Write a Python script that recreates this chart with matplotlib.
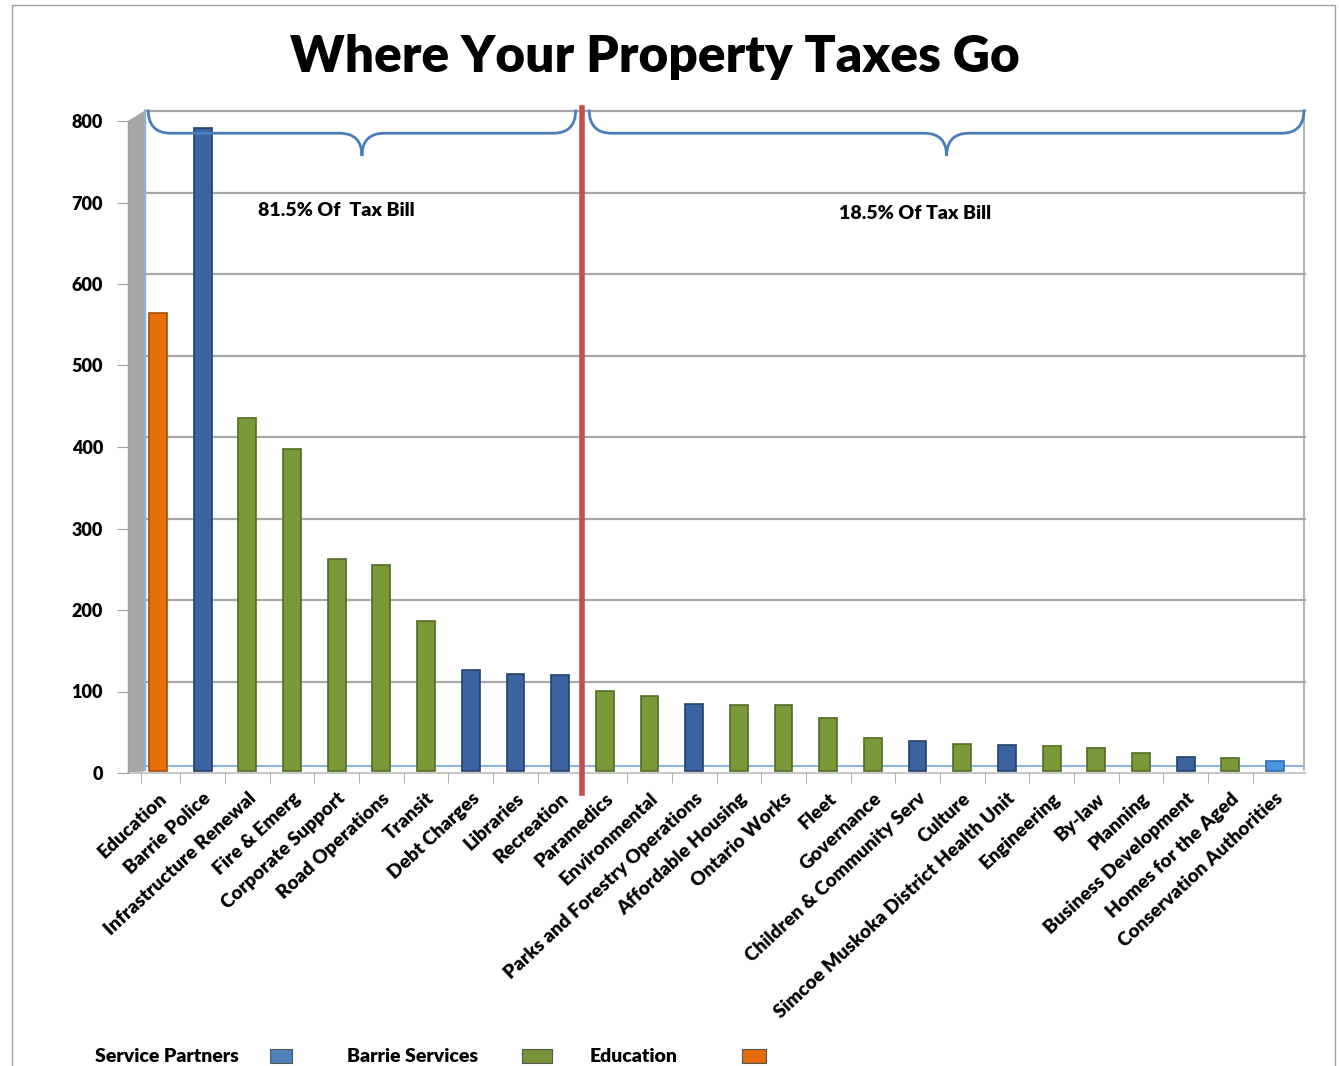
import matplotlib.pyplot as plt
from matplotlib.patches import Rectangle, PathPatch
from matplotlib.path import Path

categories = ['Education', 'Barrie Police', 'Infrastructure Renewal', 'Fire & Emerg',
              'Corporate Support', 'Road Operations', 'Transit', 'Debt Charges',
              'Libraries', 'Recreation', 'Paramedics', 'Environmental',
              'Parks and Forestry Operations', 'Affordable Housing', 'Ontario Works',
              'Fleet', 'Governance', 'Children & Community Serv', 'Culture',
              'Simcoe Muskoka District Health Unit', 'Engineering', 'By-law',
              'Planning', 'Business Development', 'Homes for the Aged',
              'Conservation Authorities']
values = [561, 789, 432, 394, 259, 252, 183, 123, 119, 117, 98, 91, 82, 81, 80,
          65, 40, 36, 33, 31, 30, 28, 21, 17, 16, 12]
# E = education, P = service partners, B = barrie services, L = light blue
groups = ['E', 'P', 'B', 'B', 'B', 'B', 'B', 'P', 'P', 'P', 'B', 'B', 'P', 'B', 'B',
          'B', 'B', 'P', 'B', 'P', 'B', 'B', 'B', 'P', 'B', 'L']
legend_labels = ['Service Partners', 'Barrie Services', 'Education']
split_pos = 9.5
left_text = '81.5% Of  Tax Bill'
right_text = '18.5% Of Tax Bill'

bar_col = {'E': '#e8700c', 'P': '#3a64a0', 'B': '#7a9a3a', 'L': '#4a94e0'}
edge_col = {'E': '#a84f08', 'P': '#24416b', 'B': '#536c25', 'L': '#2f6fb0'}
legend_col = ['#4f81bd', '#77933c', '#e46c0a']

W, H = 1339, 1066
fig = plt.figure(figsize=(W / 100, H / 100), dpi=100)
plt.rcParams['font.family'] = ['Lato', 'DejaVu Sans']

ax_l, ax_r, ax_t, ax_b = 128, 1305, 121, 773
ax = fig.add_axes([ax_l / W, 1 - ax_b / H, (ax_r - ax_l) / W, (ax_b - ax_t) / H])

x0px, step = 158, 44.68
xlo = (ax_l - x0px) / step
xhi = (ax_r - x0px) / step
ax.set_xlim(xlo, xhi)
ax.set_ylim(0, 800)

wall = (145 - x0px) / step
ax.fill_between([xlo, wall], [0, 4], [800, 813], color='#a6a6a6', zorder=1, clip_on=False)
for yv in range(100, 801, 100):
    ax.plot([wall, xhi], [yv + 12, yv + 12], color='#a8a8a8', lw=1.6, zorder=1,
            clip_on=False)
ax.plot([wall, wall], [4, 813], color='#8db3e2', lw=1.2, zorder=1, clip_on=False)
ax.plot([xhi - 0.02, xhi - 0.02], [4, 813], color='#a8a8a8', lw=1.2, zorder=1,
        clip_on=False)
ax.plot([wall, xhi], [8, 8], color='#8db3e2', lw=1.5, zorder=1)
ax.plot([xlo, xhi], [0, 0], color='#c8c8c8', lw=1.5, zorder=1, clip_on=False)

xs = list(range(len(categories)))
for x, v, g in zip(xs, values, groups):
    ax.bar(x, v, width=0.4, bottom=3, color=bar_col[g], edgecolor=edge_col[g],
           lw=1.2, zorder=3)

ax.axvline(split_pos, ymin=-0.03, ymax=1.02, color='#c0504d', lw=4, zorder=5,
           clip_on=False)


def brace(xa, xb, ytop, ymid, ytip, dx):
    xc = (xa + xb) / 2
    verts = [(xa, ytop), (xa, ymid), (xa + dx, ymid),
             (xc - dx, ymid),
             (xc, ymid), (xc, ytip),
             (xc, ymid), (xc + dx, ymid),
             (xb - dx, ymid),
             (xb, ymid), (xb, ytop)]
    codes = [Path.MOVETO, Path.CURVE3, Path.CURVE3, Path.LINETO,
             Path.CURVE3, Path.CURVE3, Path.CURVE3, Path.CURVE3,
             Path.LINETO, Path.CURVE3, Path.CURVE3]
    ax.add_patch(PathPatch(Path(verts, codes), fill=False, edgecolor='#4a7ebb',
                           lw=2, zorder=4, clip_on=False))


brace(-0.22, 9.35, 814, 785, 757, 0.5)
brace(9.65, 25.65, 814, 785, 757, 0.5)

ax.text(4.0, 690, left_text, fontsize=14, fontweight='heavy', ha='center', va='center')
ax.text(16.95, 686, right_text, fontsize=14, fontweight='heavy', ha='center', va='center')

ax.set_yticks(range(0, 801, 100))
ax.tick_params(axis='y', labelsize=13, length=8, color='#a0a0a0', pad=10)
for t in ax.get_yticklabels():
    t.set_fontweight('heavy')
ax.set_xticks(xs)
ax.set_xticklabels(categories, rotation=43, ha='right', rotation_mode='anchor',
                   fontsize=13.8, fontweight='heavy')
ax.tick_params(axis='x', length=0, pad=12)
ax.set_xticks([x + 0.5 for x in xs[:-1]] + [xlo + 0.3], minor=True)
ax.tick_params(axis='x', which='minor', length=7, color='#a0a0a0')
for s in ['top', 'right', 'bottom']:
    ax.spines[s].set_visible(False)
ax.spines['left'].set_color('#a0a0a0')

fig.text(655 / W, 1 - 57 / H, 'Where Your Property Taxes Go', fontsize=37,
         fontweight='heavy', ha='center', va='center')

# legend at the bottom
leg_text_x = [95, 347, 590]
leg_box = [(270, 292), (522, 552), (742, 766)]
for lab, tx, (bx0, bx1), c in zip(legend_labels, leg_text_x, leg_box, legend_col):
    fig.text(tx / W, 1 - 1056 / H, lab, fontsize=14, fontweight='heavy',
             ha='left', va='center')
    fig.patches.append(Rectangle((bx0 / W, 1 - 1063 / H), (bx1 - bx0) / W, 14 / H,
                                 transform=fig.transFigure, facecolor=c,
                                 edgecolor='#555555', lw=0.8))

fig.patches.append(Rectangle((12 / W, -0.01), (1335 - 12) / W, 1.0 - 5 / H + 0.01,
                             transform=fig.transFigure, fill=False,
                             edgecolor='#a0a0a0', lw=1))

fig.savefig('out.png', dpi=100)
